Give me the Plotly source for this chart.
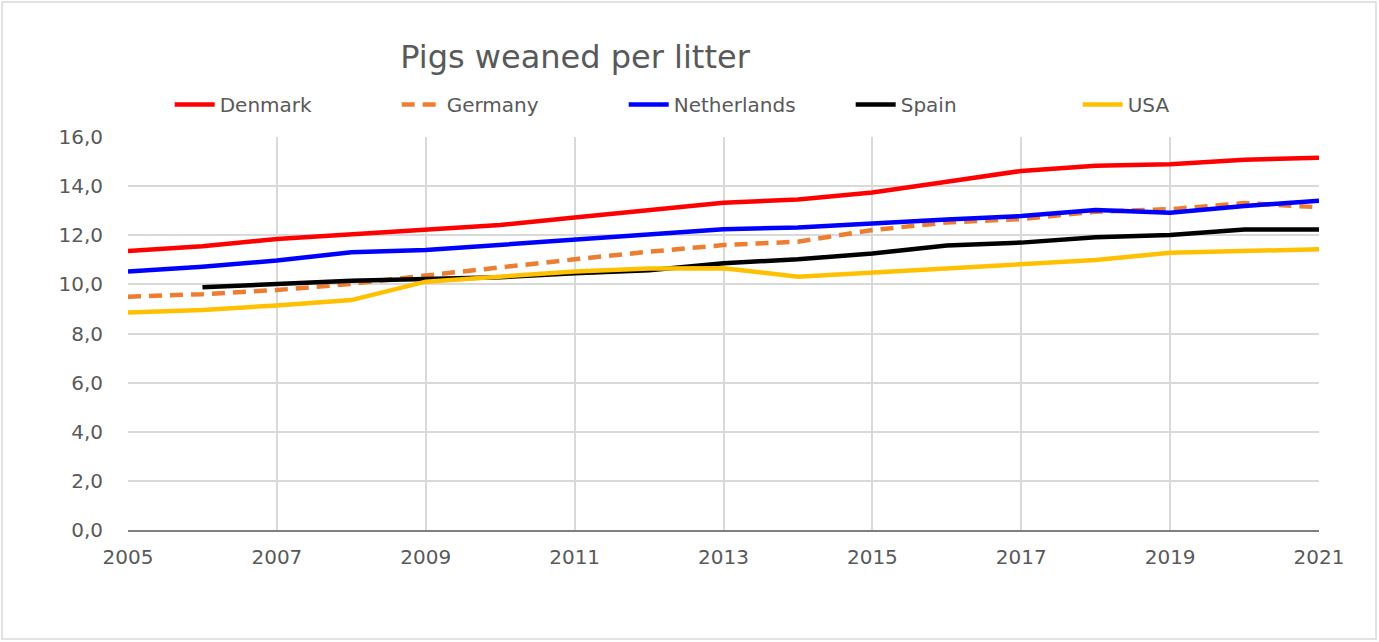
import plotly.graph_objects as go

years = list(range(2005, 2022))
denmark = [11.36, 11.55, 11.85, 12.04, 12.22, 12.42, 12.72, 13.03, 13.32, 13.46, 13.74, 14.18, 14.62, 14.83, 14.89, 15.07, 15.16]
germany = [9.50, 9.60, 9.77, 10.02, 10.36, 10.70, 11.02, 11.33, 11.60, 11.74, 12.21, 12.52, 12.66, 12.96, 13.06, 13.31, 13.14]
netherlands = [10.52, 10.72, 10.97, 11.31, 11.40, 11.60, 11.84, 12.04, 12.24, 12.32, 12.49, 12.64, 12.78, 13.03, 12.92, 13.19, 13.41]
spain = [None, 9.88, 10.02, 10.15, 10.22, 10.29, 10.45, 10.58, 10.86, 11.02, 11.26, 11.58, 11.70, 11.92, 12.01, 12.23, 12.23]
usa = [8.86, 8.96, 9.14, 9.36, 10.11, 10.31, 10.52, 10.65, 10.66, 10.31, 10.48, 10.65, 10.82, 10.99, 11.29, 11.37, 11.43]

series = [
    ("Denmark", denmark, "#ff0000", "solid"),
    ("Germany", germany, "#ed7d31", "13px,8px"),
    ("Netherlands", netherlands, "#0000ff", "solid"),
    ("Spain", spain, "#000000", "solid"),
    ("USA", usa, "#ffc000", "solid"),
]

fig = go.Figure()
for name, vals, color, dash in series:
    fig.add_trace(go.Scatter(x=years, y=vals, name=name, mode="lines",
                             line=dict(color=color, width=4.5, dash=dash),
                             connectgaps=False))

font_c = "#595959"
fam = "DejaVu Sans, Liberation Sans, Arial, sans-serif"
fig.update_layout(
    width=1379, height=642,
    paper_bgcolor="white", plot_bgcolor="white",
    separators=",.",
    font=dict(family=fam, color=font_c, size=20),
    margin=dict(l=128, r=60, t=137, b=112),
    title=dict(text="Pigs weaned per litter", x=575 / 1379, xanchor="center",
               y=1 - 57 / 642, yanchor="middle", xref="container", yref="container",
               font=dict(size=32, color=font_c, family=fam)),
    legend=dict(orientation="h", x=0.035, xanchor="left", y=1.083, yanchor="middle",
                font=dict(size=20, color=font_c, family=fam), bgcolor="rgba(0,0,0,0)",
                entrywidth=172, itemwidth=40),
    xaxis=dict(range=[2005, 2021], dtick=2, tick0=2005, showgrid=True,
               gridcolor="#d9d9d9", gridwidth=2, zeroline=False,
               showline=True, linecolor="#7f7f7f", linewidth=2,
               ticks="", ticklabelstandoff=8, tickfont=dict(size=20, color=font_c, family=fam)),
    yaxis=dict(range=[0, 16], dtick=2, tickformat=".1f", showgrid=True,
               gridcolor="#d9d9d9", gridwidth=2, zeroline=False, showline=False,
               ticks="", ticklabelstandoff=24, tickfont=dict(size=20, color=font_c, family=fam)),
    shapes=[dict(type="rect", xref="paper", yref="paper",
                 x0=(2 - 128) / 1191, x1=(1376 - 128) / 1191,
                 y0=(530 - 639) / 393, y1=(530 - 2) / 393,
                 line=dict(color="#d9d9d9", width=1.5), layer="below")],
)

fig.write_html("out.html", config={"displayModeBar": False},
               post_script="document.body.style.margin='0';")
